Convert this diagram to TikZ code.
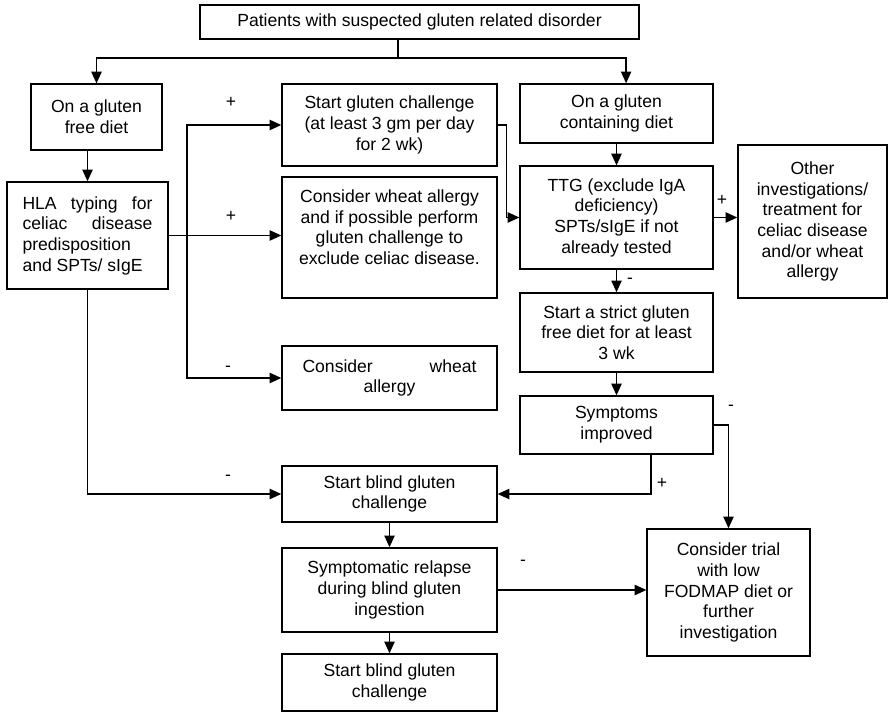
\documentclass[tikz,border=0pt]{standalone}
\usepackage{fontspec}
\setmainfont{Liberation Sans}
\usetikzlibrary{arrows.meta}
\begin{document}
\begin{tikzpicture}[x=0.024cm, y=-0.024cm, font=\fontsize{12}{14.1}\selectfont,
  box/.style={draw, line width=0.9pt, align=center},
  arr/.style={-{Triangle[length=8pt,width=7pt]}, line width=1.1pt},
  lbl/.style={inner sep=0pt}]
\useasboundingbox (0,0) rectangle (889,712);
\node[box, minimum width=10.54cm, minimum height=0.82cm] at (419.5,22) (top) {Patients with suspected gluten related disorder};

\node[box, minimum width=3.14cm, minimum height=1.58cm] at (96.5,117) (free) {On a gluten\\free diet};
\node[box, minimum width=3.86cm, minimum height=2.57cm, align=justify, text width=3.12cm] at (87.5,235.5) (hla) {HLA typing for\linebreak celiac disease\linebreak predisposition\newline and SPTs/ sIgE};

\node[box, minimum width=5.16cm, minimum height=1.97cm] at (389.5,125) (chal) {Start gluten challenge\\(at least 3 gm per day\\for 2 wk)};
\node[box, minimum width=5.16cm, minimum height=2.90cm] at (389.5,237.5) (wheat) {Consider wheat allergy\\and if possible perform\\gluten challenge to\\exclude celiac disease.\\ \mbox{}};
\node[box, minimum width=5.16cm, minimum height=1.54cm] at (389.5,378) (cwa) {\makebox[118.8pt][s]{Consider wheat}\\allergy};
\node[box, minimum width=5.16cm, minimum height=1.34cm] at (389.5,494) (blind1) {Start blind gluten\\challenge};
\node[box, minimum width=5.16cm, minimum height=2.02cm] at (389.5,590) (relapse) {Symptomatic relapse\\during blind gluten\\ingestion};
\node[box, minimum width=5.16cm, minimum height=1.37cm] at (389.5,682.5) (blind2) {Start blind gluten\\challenge};

\node[box, minimum width=4.63cm, minimum height=1.42cm] at (616.5,113.5) (gfd) {On a gluten\\containing diet};
\node[box, minimum width=4.63cm, minimum height=2.47cm] at (616.5,217.5) (ttg) {TTG (exclude IgA\\deficiency)\\SPTs/sIgE if not\\already tested};
\node[box, minimum width=4.63cm, minimum height=1.90cm] at (616.5,332.5) (strict) {Start a strict gluten\\free diet for at least\\3 wk};
\node[box, minimum width=4.63cm, minimum height=1.39cm] at (616.5,425) (sympt) {Symptoms\\improved};
\node[box, minimum width=3.58cm, minimum height=3.67cm] at (812.5,221.5) (other) {Other\\investigations/\\treatment for\\celiac disease\\and/or wheat\\allergy};
\node[box, minimum width=3.91cm, minimum height=3.05cm] at (728.5,592.5) (fodmap) {Consider trial\\with low\\FODMAP diet or\\further\\investigation};

\coordinate (split) at (398,58);
\coordinate (bus) at (187,235.5);
\draw[line width=1.1pt] (top.south -| split) -- (split);
\draw[arr] (split) -| (free.north);
\draw[arr] (split) -| ([xshift=0.23cm]gfd.north);
\draw[arr] (free.south -| hla.north) -- (hla.north);
\draw[arr] (hla.south) |- (blind1.west);
\draw[arr] (hla.east) -- (hla.east -| wheat.west);
\draw[arr] (bus) |- (chal.west);
\draw[arr] (bus) |- (cwa.west);
\draw[arr] (chal.east) -- ++(9,0) |- (ttg.west);
\draw[arr] (gfd) -- (ttg);
\draw[arr] (ttg.east) -- (ttg.east -| other.west);
\draw[arr] (ttg) -- (strict);
\draw[arr] (strict) -- (sympt);
\draw[arr] (sympt.east) -| (fodmap.north);
\draw[arr] ([xshift=0.83cm]sympt.south) |- (blind1.east);
\draw[arr] (blind1) -- (relapse);
\draw[arr] (relapse.east) -- (relapse.east -| fodmap.west);
\draw[arr] (relapse) -- (blind2);

\node[lbl] at (231,102) (l1) {+};
\node[lbl] at (231,216) (l2) {+};
\node[lbl] at (228,369) (l3) {-};
\node[lbl] at (228,478) (l4) {-};
\node[lbl] at (722,200) (l5) {+};
\node[lbl] at (630,281) (l6) {-};
\node[lbl] at (731,408) (l7) {-};
\node[lbl] at (662,483) (l8) {+};
\node[lbl] at (523,563) (l9) {-};
\end{tikzpicture}
\end{document}
